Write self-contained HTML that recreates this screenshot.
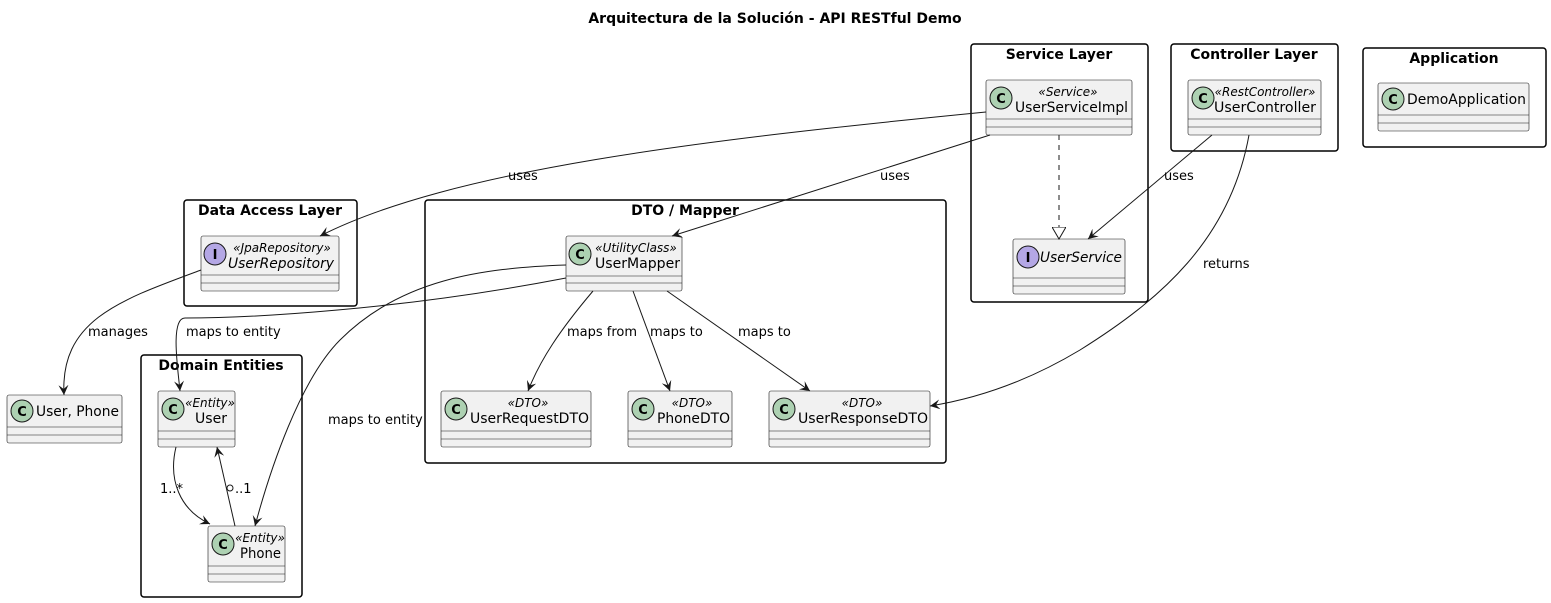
<!DOCTYPE html>
<html><head><meta charset="utf-8"><style>
html,body{margin:0;padding:0;background:#fff;}
svg{display:block;font-family:"DejaVu Sans","Liberation Sans",sans-serif;}
.pk{fill:none;stroke:#000;stroke-width:1.5;}
.pt{font-weight:bold;font-size:14px;text-anchor:middle;}
.bx{fill:#f1f1f1;stroke:#181818;stroke-width:0.6;}
.ln{stroke:#181818;stroke-width:0.6;}
.e{fill:none;stroke:#181818;stroke-width:1;}
.lb{font-size:13px;}
.st{font-size:12px;font-style:italic;text-anchor:middle;}
.nm{font-size:14px;}
.ci{fill:#add1b2;stroke:#181818;stroke-width:1;}
.ii{fill:#b4a7e5;stroke:#181818;stroke-width:1;}
.cl{font-size:13px;font-weight:bold;text-anchor:middle;}
</style></head><body>
<svg width="1551" height="603" viewBox="0 0 1551 603" xmlns="http://www.w3.org/2000/svg">
<defs><marker id="a" markerWidth="12" markerHeight="10" refX="10" refY="5" orient="auto" markerUnits="userSpaceOnUse"><path d="M0,0 L10,5 L0,10 L4,5 Z" fill="#181818"/></marker>
<marker id="t" markerWidth="14" markerHeight="14" refX="12" refY="7" orient="auto" markerUnits="userSpaceOnUse"><path d="M0,0 L12,7 L0,14 Z" fill="#fff" stroke="#181818"/></marker></defs>
<text x="775" y="23" class="pt">Arquitectura de la Solución - API RESTful Demo</text>

<rect class="pk" x="971" y="44" width="177" height="258" rx="3"/><text x="1059" y="59" class="pt">Service Layer</text>
<rect class="pk" x="1171" y="44" width="167" height="107" rx="3"/><text x="1254" y="59" class="pt">Controller Layer</text>
<rect class="pk" x="1363" y="48" width="183" height="99" rx="3"/><text x="1454" y="63" class="pt">Application</text>
<rect class="pk" x="184" y="200" width="173" height="106" rx="3"/><text x="270" y="215" class="pt">Data Access Layer</text>
<rect class="pk" x="425" y="200" width="521" height="263" rx="3"/><text x="685" y="215" class="pt">DTO / Mapper</text>
<rect class="pk" x="141" y="355" width="161" height="242" rx="3"/><text x="221" y="370" class="pt">Domain Entities</text>

<g>
<rect class="bx" x="986" y="80" width="146" height="55" rx="2"/><line class="ln" x1="986" y1="119" x2="1132" y2="119"/><line class="ln" x1="986" y1="127" x2="1132" y2="127"/>
<circle class="ci" cx="1001" cy="98" r="11"/><text x="1001" y="103" class="cl">C</text>
<text x="1068" y="96" class="st">«Service»</text><text x="1015" y="112" class="nm" textLength="113" lengthAdjust="spacingAndGlyphs">UserServiceImpl</text>

<rect class="bx" x="1188" y="80" width="133" height="55" rx="2"/><line class="ln" x1="1188" y1="119" x2="1321" y2="119"/><line class="ln" x1="1188" y1="127" x2="1321" y2="127"/>
<circle class="ci" cx="1203" cy="98" r="11"/><text x="1203" y="103" class="cl">C</text>
<text x="1265" y="96" class="st">«RestController»</text><text x="1214" y="112" class="nm" textLength="102" lengthAdjust="spacingAndGlyphs">UserController</text>

<rect class="bx" x="1378" y="83" width="151" height="48" rx="2"/><line class="ln" x1="1378" y1="115" x2="1529" y2="115"/><line class="ln" x1="1378" y1="123" x2="1529" y2="123"/>
<circle class="ci" cx="1393" cy="99" r="11"/><text x="1393" y="104" class="cl">C</text>
<text x="1407" y="104" class="nm" textLength="119" lengthAdjust="spacingAndGlyphs">DemoApplication</text>

<rect class="bx" x="1013" y="239" width="112" height="55" rx="2"/><line class="ln" x1="1013" y1="278" x2="1125" y2="278"/><line class="ln" x1="1013" y1="286" x2="1125" y2="286"/>
<circle class="ii" cx="1028" cy="257" r="11"/><text x="1028" y="262" class="cl">I</text>
<text x="1040" y="262" class="nm" font-style="italic" textLength="82" lengthAdjust="spacingAndGlyphs">UserService</text>

<rect class="bx" x="201" y="236" width="138" height="55" rx="2"/><line class="ln" x1="201" y1="275" x2="339" y2="275"/><line class="ln" x1="201" y1="283" x2="339" y2="283"/>
<circle class="ii" cx="215" cy="254" r="11"/><text x="215" y="259" class="cl">I</text>
<text x="282" y="252" class="st">«JpaRepository»</text><text x="228" y="268" class="nm" font-style="italic" textLength="106" lengthAdjust="spacingAndGlyphs">UserRepository</text>

<rect class="bx" x="566" y="236" width="116" height="55" rx="2"/><line class="ln" x1="566" y1="276" x2="682" y2="276"/><line class="ln" x1="566" y1="283" x2="682" y2="283"/>
<circle class="ci" cx="580" cy="254" r="11"/><text x="580" y="259" class="cl">C</text>
<text x="636" y="252" class="st">«UtilityClass»</text><text x="595" y="268" class="nm" textLength="85" lengthAdjust="spacingAndGlyphs">UserMapper</text>

<rect class="bx" x="441" y="391" width="150" height="56" rx="2"/><line class="ln" x1="441" y1="431" x2="591" y2="431"/><line class="ln" x1="441" y1="439" x2="591" y2="439"/>
<circle class="ci" cx="456" cy="409" r="11"/><text x="456" y="414" class="cl">C</text>
<text x="528" y="407" class="st">«DTO»</text><text x="470" y="423" class="nm" textLength="119" lengthAdjust="spacingAndGlyphs">UserRequestDTO</text>

<rect class="bx" x="628" y="391" width="104" height="56" rx="2"/><line class="ln" x1="628" y1="431" x2="732" y2="431"/><line class="ln" x1="628" y1="439" x2="732" y2="439"/>
<circle class="ci" cx="643" cy="409" r="11"/><text x="643" y="414" class="cl">C</text>
<text x="692" y="407" class="st">«DTO»</text><text x="657" y="423" class="nm" textLength="73" lengthAdjust="spacingAndGlyphs">PhoneDTO</text>

<rect class="bx" x="769" y="391" width="161" height="56" rx="2"/><line class="ln" x1="769" y1="431" x2="930" y2="431"/><line class="ln" x1="769" y1="439" x2="930" y2="439"/>
<circle class="ci" cx="784" cy="409" r="11"/><text x="784" y="414" class="cl">C</text>
<text x="862" y="407" class="st">«DTO»</text><text x="798" y="423" class="nm" textLength="130" lengthAdjust="spacingAndGlyphs">UserResponseDTO</text>

<rect class="bx" x="158" y="391" width="77" height="56" rx="2"/><line class="ln" x1="158" y1="431" x2="235" y2="431"/><line class="ln" x1="158" y1="439" x2="235" y2="439"/>
<circle class="ci" cx="173" cy="409" r="11"/><text x="173" y="414" class="cl">C</text>
<text x="210" y="407" class="st">«Entity»</text><text x="195" y="423" class="nm" textLength="32" lengthAdjust="spacingAndGlyphs">User</text>

<rect class="bx" x="208" y="526" width="77" height="56" rx="2"/><line class="ln" x1="208" y1="566" x2="285" y2="566"/><line class="ln" x1="208" y1="574" x2="285" y2="574"/>
<circle class="ci" cx="223" cy="544" r="11"/><text x="223" y="549" class="cl">C</text>
<text x="260" y="542" class="st">«Entity»</text><text x="240" y="558" class="nm" textLength="41" lengthAdjust="spacingAndGlyphs">Phone</text>

<rect class="bx" x="7" y="395" width="115" height="48" rx="2"/><line class="ln" x1="7" y1="427" x2="122" y2="427"/><line class="ln" x1="7" y1="435" x2="122" y2="435"/>
<circle class="ci" cx="22" cy="411" r="11"/><text x="22" y="416" class="cl">C</text>
<text x="36" y="416" class="nm" textLength="83" lengthAdjust="spacingAndGlyphs">User, Phone</text>
</g>

<path class="e" d="M986,112 C700,140 450,170 320,236" marker-end="url(#a)"/>
<text x="508" y="180" class="lb">uses</text>
<path class="e" d="M990,135 L672,236" marker-end="url(#a)"/>
<text x="880" y="180" class="lb">uses</text>
<path class="e" d="M1059,135 L1059,239" stroke-dasharray="5,5" marker-end="url(#t)"/>
<path class="e" d="M1212,135 L1088,239" marker-end="url(#a)"/>
<text x="1164" y="180" class="lb">uses</text>
<path class="e" d="M1249,135 C1230,240 1160,300 1080,350 C1030,380 980,398 930,406" marker-end="url(#a)"/>
<text x="1203" y="268" class="lb">returns</text>
<path class="e" d="M201,270 C120,300 60,320 64,395" marker-end="url(#a)"/>
<text x="88" y="336" class="lb">manages</text>
<path class="e" d="M566,278 C400,310 250,318 185,318 C170,318 178,370 180,391" marker-end="url(#a)"/>
<text x="186" y="336" class="lb">maps to entity</text>
<path class="e" d="M566,265 C480,268 400,280 340,340 C300,380 270,470 255,526" marker-end="url(#a)"/>
<text x="328" y="424" class="lb">maps to entity</text>
<path class="e" d="M593,291 C560,330 540,360 528,391" marker-end="url(#a)"/>
<text x="567" y="336" class="lb">maps from</text>
<path class="e" d="M633,291 L670,391" marker-end="url(#a)"/>
<text x="650" y="336" class="lb">maps to</text>
<path class="e" d="M667,291 L810,391" marker-end="url(#a)"/>
<text x="738" y="336" class="lb">maps to</text>
<path class="e" d="M176,447 C168,480 180,510 210,524" marker-end="url(#a)"/>
<text x="160" y="493" class="lb">1..*</text>
<path class="e" d="M235,526 L217,447" marker-end="url(#a)"/>
<circle cx="230" cy="488" r="3" fill="none" stroke="#181818"/>
<text x="235" y="493" class="lb">..1</text>
</svg>
</body></html>
